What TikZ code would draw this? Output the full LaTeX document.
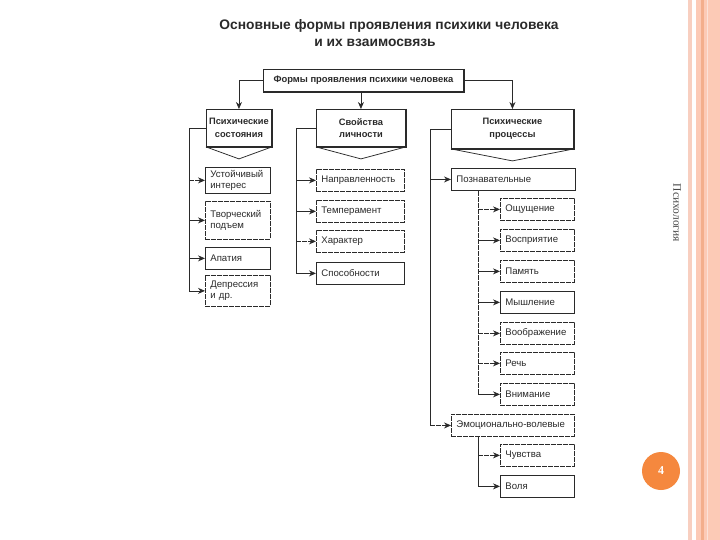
\documentclass[tikz,border=0pt]{standalone}
\usepackage{fontspec}
\setmainfont{Liberation Sans}
\newfontfamily\serifface{Liberation Serif}
\usetikzlibrary{arrows.meta}
\definecolor{ink}{HTML}{2A2A2A}
\definecolor{peach}{HTML}{FCCAB6}
\definecolor{peachdark}{HTML}{F3AE8C}
\definecolor{peachlight}{HTML}{F8CFC0}
\definecolor{orangedot}{HTML}{F5883E}
\tikzset{
  ln/.style={draw=ink, line width=0.75pt},
  arr/.style={ln, -{Stealth[length=7pt,width=6pt]}},
  dsh/.style={dash pattern=on 5pt off 1pt},
  cbox/.style={draw=ink, line width=0.75pt, anchor=north west, inner xsep=5pt, inner ysep=0pt,
    font=\fontsize{9.6}{11}\selectfont, align=left, text=ink},
  hbox/.style={draw=ink, line width=0.9pt, anchor=north west, inner sep=0pt,
    font=\bfseries\fontsize{9.3}{12.5}\selectfont, align=center, text=ink},
}
\newcommand{\headshadow}[1]{%
  \draw[ink, line width=1.7pt] (#1.north east) -- (#1.south east) -- (#1.south west);
  \draw[ln] (#1.south west) -- ([yshift=-12pt]#1.south) -- (#1.south east);}
\begin{document}
\begin{tikzpicture}[x=1pt,y=-1pt]
\useasboundingbox (0,0) rectangle (720,540);
\fill[white] (0,0) rectangle (720,540);
% side decoration
\fill[peachlight] (688,0) rectangle (692,540);
\fill[peach] (696,0) rectangle (720,540);
\fill[peachdark] (701,0) rectangle (703.5,540);
\fill[peachlight!60!white] (707,0) rectangle (708,540);
\node[rotate=-90, font=\serifface\fontsize{11.5}{12}\selectfont, text=black!72] (side) at (677,213) {Психология};
\fill[orangedot] (661,471) circle (19);
\node[font=\serifface\bfseries\fontsize{12}{13}\selectfont, text=white] (num) at (661,471) {4};
% title
\node[font=\bfseries\fontsize{13.8}{15}\selectfont, text=ink] (t1) at (389,26) {Основные формы проявления психики человека};
\node[font=\bfseries\fontsize{13.8}{15}\selectfont, text=ink] (t2) at (375,43) {и их взаимосвязь};
% top box
\node[hbox, minimum width=200pt, minimum height=22pt, line width=0.8pt, font=\bfseries\fontsize{9.4}{11}\selectfont] (top) at (263,69) {Формы проявления психики человека};
\draw[ink, line width=1.5pt] (top.north east) -- (top.south east) -- (top.south west);
% headers
\node[hbox, minimum width=65pt, minimum height=37pt] (lh) at (206,109) {Психические\\состояния};
\node[hbox, minimum width=89pt, minimum height=37pt] (mh) at (316,109) {Свойства\\личности};
\node[hbox, minimum width=122pt, minimum height=39pt] (rh) at (451,109) {Психические\\процессы};
\headshadow{lh}\headshadow{mh}\headshadow{rh}
\draw[arr] (top.west) -| (lh.north);
\draw[arr] (top.east) -| (rh.north);
\draw[arr] (top.south -| mh.north) -- (mh.north);
% left column
\node[cbox, text width=55pt, minimum height=26pt] (l1) at (205,167) {Устойчивый\\интерес};
\node[cbox, dsh, text width=55pt, minimum height=38pt] (l2) at (205,201) {Творческий\\подъем};
\node[cbox, text width=55pt, minimum height=22pt] (l3) at (205,247) {Апатия};
\node[cbox, dsh, text width=55pt, minimum height=31pt] (l4) at (205,275) {Депрессия\\и др.};
\coordinate (lt) at (189,0);
\draw[arr] (lh.west) -| (lt |- l4.west) -- (l4.west);
\draw[arr, dsh] (lt |- l1.west) -- (l1.west);
\draw[arr] (lt |- l2.west) -- (l2.west);
\draw[arr] (lt |- l3.west) -- (l3.west);
% middle column
\node[cbox, dsh, text width=78pt, minimum height=22pt] (m1) at (316,169) {Направленность};
\node[cbox, dsh, text width=78pt, minimum height=22pt] (m2) at (316,200) {Темперамент};
\node[cbox, dsh, text width=78pt, minimum height=22pt] (m3) at (316,230) {Характер};
\node[cbox, text width=78pt, minimum height=22pt] (m4) at (316,262) {Способности};
\coordinate (mt) at (296,0);
\draw[arr] (mh.west) -| (mt |- m4.west) -- (m4.west);
\draw[arr] (mt |- m1.west) -- (m1.west);
\draw[arr] (mt |- m2.west) -- (m2.west);
\draw[arr, dsh] (mt |- m3.west) -- (m3.west);
% right column
\node[cbox, line width=0.9pt, text width=114pt, minimum height=22pt] (p) at (451,168) {Познавательные};
\node[cbox, dsh, line width=0.9pt, text width=113pt, minimum height=22pt] (e) at (451,414) {Эмоционально-волевые};
\coordinate (rt) at (430,0);
\draw[ln] (rh.west) -| (rt |- e.west);
\draw[arr, dsh] (rt |- e.west) -- (e.west);
\draw[arr] (rt |- p.west) -- (p.west);
\node[cbox, dsh, text width=64pt, minimum height=22pt] (r1) at (500,198) {Ощущение};
\node[cbox, dsh, text width=64pt, minimum height=22pt] (r2) at (500,229) {Восприятие};
\node[cbox, dsh, text width=64pt, minimum height=22pt] (r3) at (500,260) {Память};
\node[cbox, text width=64pt, minimum height=22pt] (r4) at (500,291) {Мышление};
\node[cbox, dsh, text width=64pt, minimum height=22pt] (r5) at (500,322) {Воображение};
\node[cbox, dsh, text width=64pt, minimum height=22pt] (r6) at (500,352) {Речь};
\node[cbox, dsh, text width=64pt, minimum height=22pt] (r7) at (500,383) {Внимание};
\coordinate (pt) at (478,0);
\draw[ln, dsh] (p.south -| pt) -- (pt |- r7.west);
\draw[arr] (pt |- r7.west) -- (r7.west);
\draw[arr, dsh] (pt |- r1.west) -- (r1.west);
\draw[arr] (pt |- r2.west) -- (r2.west);
\draw[arr] (pt |- r3.west) -- (r3.west);
\draw[arr] (pt |- r4.west) -- (r4.west);
\draw[arr, dsh] (pt |- r5.west) -- (r5.west);
\draw[arr, dsh] (pt |- r6.west) -- (r6.west);
\node[cbox, dsh, text width=64pt, minimum height=22pt] (s1) at (500,444) {Чувства};
\node[cbox, text width=64pt, minimum height=22pt] (s2) at (500,475) {Воля};
\draw[arr] (e.south -| pt) -- (pt |- s2.west) -- (s2.west);
\draw[arr, dsh] (pt |- s1.west) -- (s1.west);
\end{tikzpicture}
\end{document}
